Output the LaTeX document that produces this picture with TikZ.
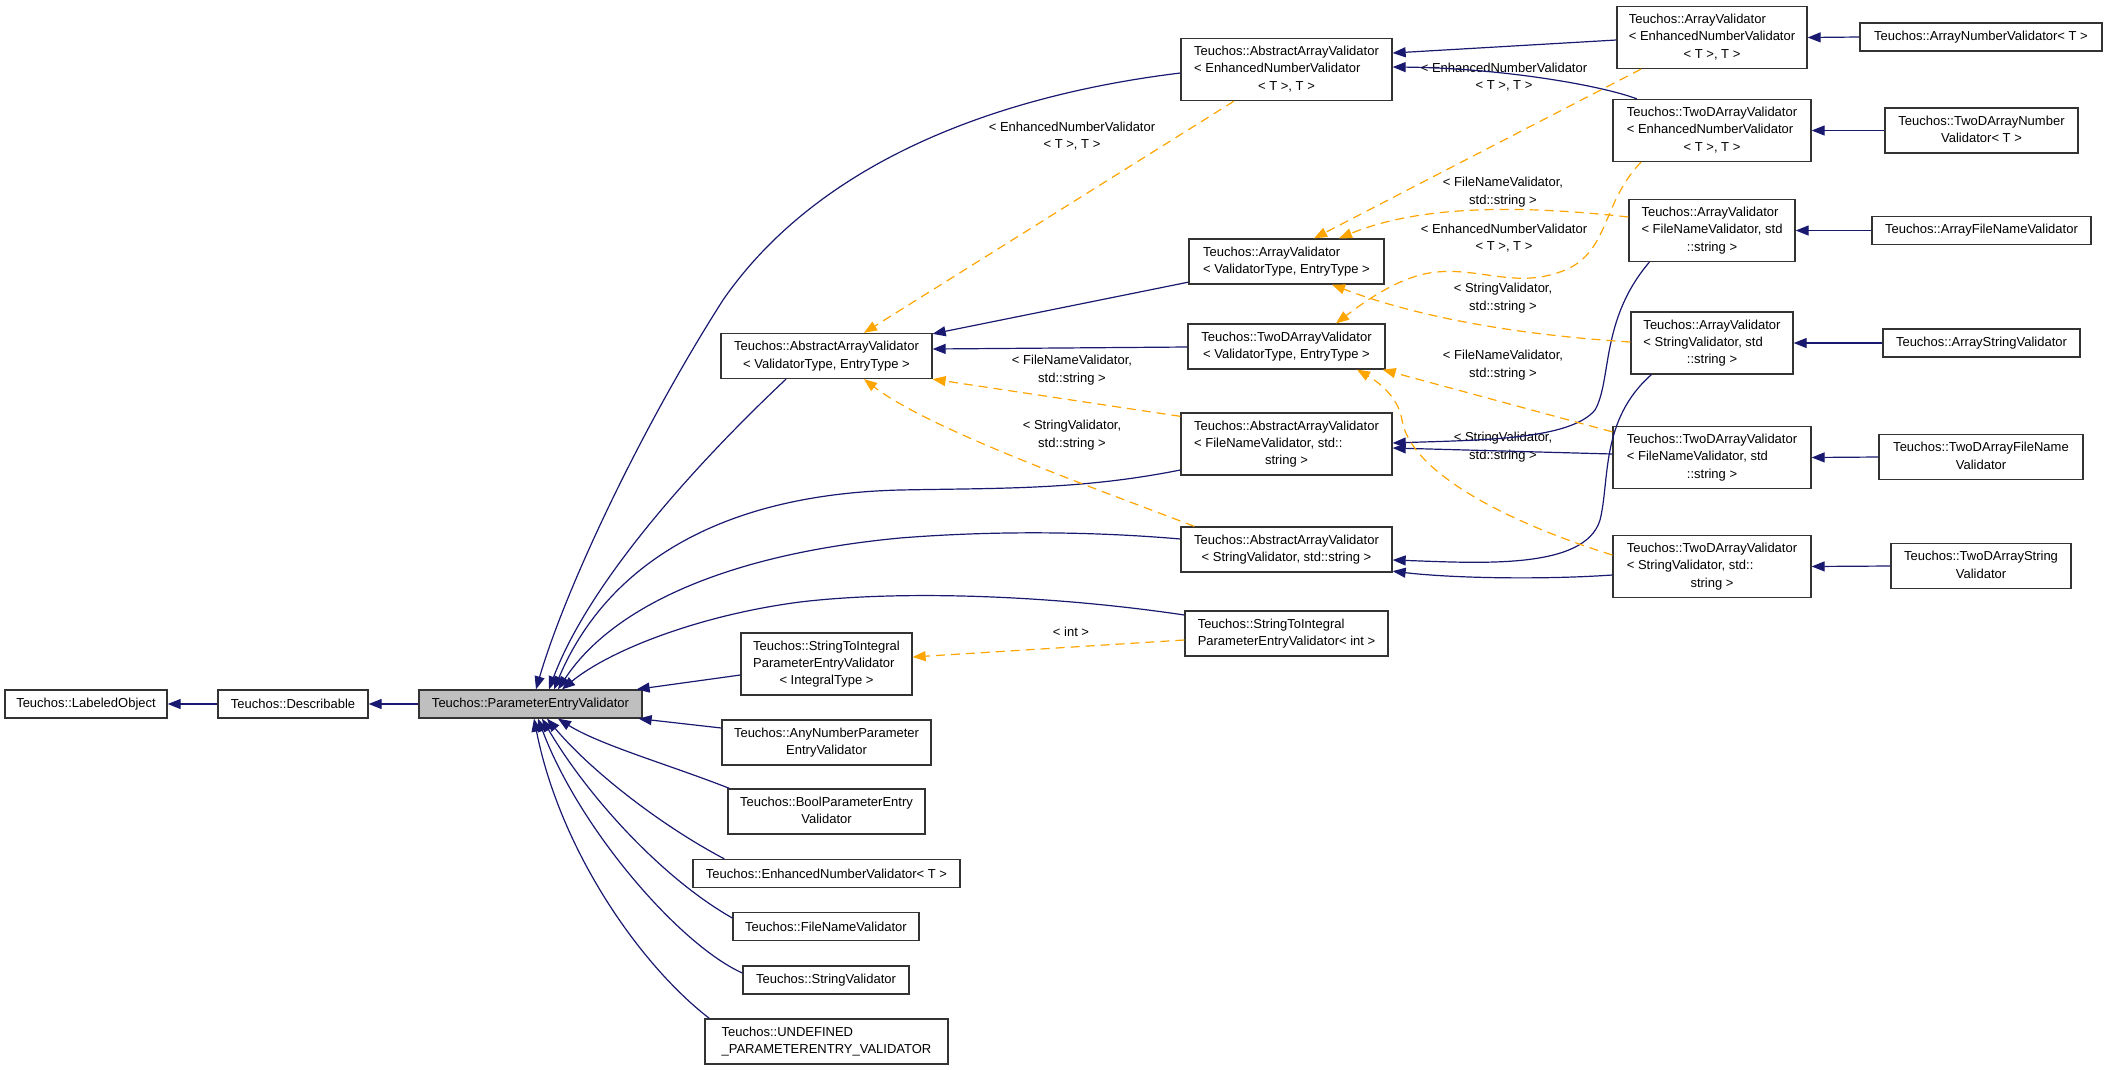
\documentclass[tikz,border=0pt]{standalone}
\usepackage{fontspec}
\setmainfont{Liberation Sans}
\usetikzlibrary{arrows.meta}
\definecolor{navyedge}{HTML}{191970}
\definecolor{orangeedge}{HTML}{FFA500}
\newcommand{\cls}[1]{\begin{tabular}{@{}l@{}}#1\end{tabular}}
\newcommand{\lst}[1]{\multicolumn{1}{@{}c@{}}{#1}}

\begin{document}
\begin{tikzpicture}[
        x=1pt, y=1pt,
        font=\fontsize{13}{17.3}\selectfont,
        box/.style={draw=black!80, line width=1.3pt, fill=white, inner sep=0pt, minimum height=28pt},
        base/.style={box, fill=black!25},
        inh/.style={navyedge, line width=1.2pt, -{Triangle[length=13pt,width=10pt]}},
        tmpl/.style={orangeedge, line width=1.2pt, dash pattern=on 9pt off 6pt,
          -{Triangle[length=13pt,width=10pt]}},
        lbl/.style={align=center, inner sep=0pt}]
        % 画布
        \useasboundingbox (0,0) rectangle (2107,-1069);
        % 基类
        \node[box, minimum width=162] (lobj) at (86,-704) {Teuchos::LabeledObject};
        \node[box, minimum width=150] (desc) at (293,-704) {Teuchos::Describable};
        \node[base, minimum width=223] (pev) at (530.5,-704) {Teuchos::ParameterEntryValidator};
        % 第二列
        \node[box, minimum width=211, minimum height=45] (aavVT) at (826.5,-356)
          {\cls{Teuchos::AbstractArrayValidator\\\lst{< ValidatorType, EntryType >}}};
        \node[box, minimum width=171, minimum height=62] (s2i) at (826.5,-664)
          {\cls{Teuchos::StringToIntegral\\ParameterEntryValidator\\\lst{< IntegralType >}}};
        \node[box, minimum width=209, minimum height=45] (anyNum) at (826.5,-742.5)
          {\cls{Teuchos::AnyNumberParameter\\\lst{EntryValidator}}};
        \node[box, minimum width=197, minimum height=45] (boolV) at (826.5,-811.5)
          {\cls{Teuchos::BoolParameterEntry\\\lst{Validator}}};
        \node[box, minimum width=267] (enhNum) at (826.5,-873.5) {Teuchos::EnhancedNumberValidator< T >};
        \node[box, minimum width=186] (fileV) at (826,-926.5) {Teuchos::FileNameValidator};
        \node[box, minimum width=166] (strV) at (826,-980) {Teuchos::StringValidator};
        \node[box, minimum width=243, minimum height=45] (undef) at (826.5,-1041.5)
          {\cls{Teuchos::UNDEFINED\\\lst{\_PARAMETERENTRY\_VALIDATOR}}};
        % 第三列
        \node[box, minimum width=211, minimum height=62] (aavEnv) at (1286.5,-69.5)
          {\cls{Teuchos::AbstractArrayValidator\\< EnhancedNumberValidator\\\lst{< T >, T >}}};
        \node[box, minimum width=195, minimum height=45] (avVT) at (1286.5,-261.5)
          {\cls{Teuchos::ArrayValidator\\\lst{< ValidatorType, EntryType >}}};
        \node[box, minimum width=197, minimum height=45] (tdVT) at (1286.5,-346.5)
          {\cls{Teuchos::TwoDArrayValidator\\\lst{< ValidatorType, EntryType >}}};
        \node[box, minimum width=211, minimum height=62] (aavFile) at (1286.5,-444)
          {\cls{Teuchos::AbstractArrayValidator\\< FileNameValidator, std::\\\lst{string >}}};
        \node[box, minimum width=211, minimum height=45] (aavStr) at (1286.5,-549.5)
          {\cls{Teuchos::AbstractArrayValidator\\\lst{< StringValidator, std::string >}}};
        \node[box, minimum width=203, minimum height=45] (s2iInt) at (1286.5,-633.5)
          {\cls{Teuchos::StringToIntegral\\\lst{ParameterEntryValidator< int >}}};
        % 第四列
        \node[box, minimum width=190, minimum height=62] (avEnv) at (1712,-37.5)
          {\cls{Teuchos::ArrayValidator\\< EnhancedNumberValidator\\\lst{< T >, T >}}};
        \node[box, minimum width=198, minimum height=62] (tdEnv) at (1712,-130.5)
          {\cls{Teuchos::TwoDArrayValidator\\< EnhancedNumberValidator\\\lst{< T >, T >}}};
        \node[box, minimum width=166, minimum height=62] (avFile) at (1712,-230.5)
          {\cls{Teuchos::ArrayValidator\\< FileNameValidator, std\\\lst{::string >}}};
        \node[box, minimum width=162, minimum height=62] (avStr) at (1712,-343)
          {\cls{Teuchos::ArrayValidator\\< StringValidator, std\\\lst{::string >}}};
        \node[box, minimum width=198, minimum height=62] (tdFile) at (1712,-457.5)
          {\cls{Teuchos::TwoDArrayValidator\\< FileNameValidator, std\\\lst{::string >}}};
        \node[box, minimum width=198, minimum height=62] (tdStr) at (1712,-566.5)
          {\cls{Teuchos::TwoDArrayValidator\\< StringValidator, std::\\\lst{string >}}};
        % 第五列
        \node[box, minimum width=242] (avNum) at (1981,-37) {Teuchos::ArrayNumberValidator< T >};
        \node[box, minimum width=193, minimum height=45] (tdNum) at (1981.5,-130.5)
          {\cls{Teuchos::TwoDArrayNumber\\\lst{Validator< T >}}};
        \node[box, minimum width=219] (arrFile) at (1981.5,-230.5) {Teuchos::ArrayFileNameValidator};
        \node[box, minimum width=197] (arrStr) at (1981.5,-343) {Teuchos::ArrayStringValidator};
        \node[box, minimum width=204, minimum height=45] (tdFileV) at (1981,-457)
          {\cls{Teuchos::TwoDArrayFileName\\\lst{Validator}}};
        \node[box, minimum width=180, minimum height=45] (tdStrV) at (1981,-566)
          {\cls{Teuchos::TwoDArrayString\\\lst{Validator}}};
        % 模板参数标签
        \node[lbl] (lEnvA) at (1072,-136) {< EnhancedNumberValidator\\< T >, T >};
        \node[lbl] (lFileA) at (1072,-370) {< FileNameValidator,\\std::string >};
        \node[lbl] (lStrA) at (1072,-435) {< StringValidator,\\std::string >};
        \node[lbl] (lEnvB) at (1504,-77) {< EnhancedNumberValidator\\< T >, T >};
        \node[lbl] (lFileB) at (1503,-192) {< FileNameValidator,\\std::string >};
        \node[lbl] (lEnvC) at (1504,-238) {< EnhancedNumberValidator\\< T >, T >};
        \node[lbl] (lStrB) at (1503,-298) {< StringValidator,\\std::string >};
        \node[lbl] (lFileC) at (1503,-365) {< FileNameValidator,\\std::string >};
        \node[lbl] (lStrC) at (1503,-447) {< StringValidator,\\std::string >};
        \node[lbl] (lInt) at (1071,-632) {< int >};
        % 继承: 基类链
        \draw[inh] (desc.west) -- (lobj.east);
        \draw[inh] (pev.west) -- (desc.east);
        % 继承: 指向 ParameterEntryValidator 上方
        \draw[inh] ([yshift=-3.5]aavEnv.west) .. controls (1000,-95) and (820,-160) .. (723,-300)
          .. controls (640,-430) and (565,-590) .. ([xshift=5.5]pev.north);
        \draw[inh] ([xshift=-40.5]aavVT.south) .. controls (700,-460) and (590,-580) .. ([xshift=18.5]pev.north);
        \draw[inh] ([yshift=-26]aavFile.west) .. controls (1080,-490) and (1000,-488) .. (900,-490)
          .. controls (700,-495) and (600,-580) .. ([xshift=23.5]pev.north);
        \draw[inh] ([yshift=10.5]aavStr.west) .. controls (1100,-532) and (1000,-530) .. (900,-538)
          .. controls (720,-555) and (610,-610) .. ([xshift=27.5]pev.north);
        \draw[inh] ([yshift=18.5]s2iInt.west) .. controls (1050,-595) and (900,-590) .. (800,-602)
          .. controls (700,-615) and (610,-650) .. ([xshift=31.5]pev.north);
        \draw[inh] ([yshift=-11]s2i.west) -- ([xshift=-6]pev.north east);
        % 继承: 指向 ParameterEntryValidator 下方
        \draw[inh] ([yshift=14.5]anyNum.west) -- ([xshift=-4]pev.south east);
        \draw[inh] ([xshift=2]boolV.north west) .. controls (670,-765) and (600,-745) .. ([xshift=27.5]pev.south);
        \draw[inh] ([xshift=32]enhNum.north west) .. controls (660,-825) and (590,-770) .. ([xshift=16.5]pev.south);
        \draw[inh] ([yshift=8.5]fileV.west) .. controls (665,-880) and (590,-800) .. ([xshift=11.5]pev.south);
        \draw[inh] ([yshift=7]strV.west) .. controls (680,-945) and (580,-830) .. ([xshift=7.5]pev.south);
        \draw[inh] ([xshift=5]undef.north west) .. controls (640,-965) and (560,-850) .. ([xshift=3.5]pev.south);
        % 继承: 数组验证器
        \draw[inh] ([yshift=2.5]avVT.south west) -- ([yshift=-1]aavVT.north east);
        \draw[inh] ([yshift=-0.5]tdVT.west) -- ([yshift=7]aavVT.east);
        \draw[inh] ([yshift=-2.5]avEnv.west) -- ([yshift=16.5]aavEnv.east);
        \draw[inh] ([xshift=24.5]tdEnv.north west) .. controls (1600,-85) and (1500,-68) .. ([yshift=2.5]aavEnv.east);
        \draw[inh] ([xshift=21]avFile.south west) .. controls (1600,-320) and (1612,-380) .. (1595,-410)
          .. controls (1570,-440) and (1480,-440) .. ([yshift=1]aavFile.east);
        \draw[inh] ([yshift=3.5]tdFile.west) -- ([yshift=-4]aavFile.east);
        \draw[inh] ([xshift=21]avStr.south west) .. controls (1600,-420) and (1610,-480) .. (1600,-520)
          .. controls (1585,-570) and (1480,-563) .. ([yshift=-10.5]aavStr.east);
        \draw[inh] ([yshift=-8.5]tdStr.west) .. controls (1540,-580) and (1450,-578) .. ([yshift=1.5]aavStr.south east);
        % 继承: 具体类
        \draw[inh] (avNum.west) -- (avEnv.east);
        \draw[inh] (tdNum.west) -- (tdEnv.east);
        \draw[inh] (arrFile.west) -- (avFile.east);
        \draw[inh] (arrStr.west) -- (avStr.east);
        \draw[inh] (tdFileV.west) -- (tdFile.east);
        \draw[inh] (tdStrV.west) -- (tdStr.east);
        % 模板实例化
        \draw[tmpl] ([xshift=-52.5]aavEnv.south) -- ([xshift=37.5]aavVT.north);
        \draw[tmpl] ([yshift=-4]aavFile.north west) -- (aavVT.south east);
        \draw[tmpl] ([xshift=14]aavStr.north west) .. controls (1100,-490) and (930,-430) .. ([xshift=37.5]aavVT.south);
        \draw[tmpl] ([xshift=-71]avEnv.south) -- ([xshift=27.5]avVT.north);
        \draw[tmpl] ([yshift=13.5]avFile.west) .. controls (1520,-205) and (1420,-205) .. ([xshift=52.5]avVT.north);
        \draw[tmpl] ([xshift=-71]tdEnv.south) .. controls (1600,-205) and (1610,-255) .. (1560,-272)
          .. controls (1510,-290) and (1470,-262) .. (1420,-275)
          .. controls (1390,-283) and (1360,-305) .. ([xshift=49.5]tdVT.north);
        \draw[tmpl] ([yshift=1]avStr.west) .. controls (1520,-335) and (1420,-318) .. ([xshift=45.5]avVT.south);
        \draw[tmpl] ([yshift=-6]tdFile.north west) -- ([xshift=-3]tdVT.south east);
        \draw[tmpl] ([yshift=11.5]tdStr.west) .. controls (1500,-520) and (1410,-470) .. (1402,-420)
          .. controls (1398,-395) and (1375,-380) .. ([xshift=70.5]tdVT.south);
        \draw[tmpl] ([yshift=-6.5]s2iInt.west) -- ([yshift=7]s2i.east);
      \end{tikzpicture}
\end{document}
